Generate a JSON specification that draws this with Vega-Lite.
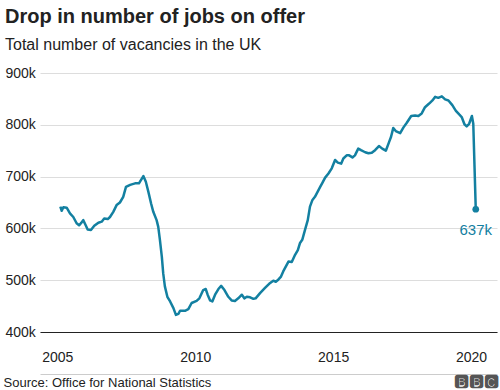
{
  "$schema": "https://vega.github.io/schema/vega-lite/v6.json",
  "width": 457,
  "height": 259,
  "autosize": {"type": "none"},
  "padding": {"left": 40, "top": 73, "right": 3, "bottom": 58},
  "background": "white",
  "config": {"font": "Liberation Sans", "view": {"stroke": null}},
  "title": {
    "text": "Drop in number of jobs on offer",
    "subtitle": "Total number of vacancies in the UK",
    "anchor": "start",
    "frame": "group",
    "dx": -35,
    "offset": 13,
    "fontSize": 20,
    "fontWeight": "bold",
    "color": "#222222",
    "subtitleFontSize": 16,
    "subtitleColor": "#222222",
    "subtitlePadding": 10
  },
  "datasets": {
    "vacancies": [
      {"year": 2005.11, "vacancies": 642}, {"year": 2005.16, "vacancies": 634}, {"year": 2005.22, "vacancies": 641},
      {"year": 2005.34, "vacancies": 640}, {"year": 2005.46, "vacancies": 629}, {"year": 2005.58, "vacancies": 622},
      {"year": 2005.70, "vacancies": 610}, {"year": 2005.79, "vacancies": 606}, {"year": 2005.86, "vacancies": 610},
      {"year": 2005.94, "vacancies": 616}, {"year": 2006.03, "vacancies": 606}, {"year": 2006.10, "vacancies": 598},
      {"year": 2006.22, "vacancies": 597}, {"year": 2006.34, "vacancies": 605}, {"year": 2006.49, "vacancies": 611},
      {"year": 2006.61, "vacancies": 613}, {"year": 2006.70, "vacancies": 619}, {"year": 2006.83, "vacancies": 618},
      {"year": 2006.91, "vacancies": 622}, {"year": 2007.03, "vacancies": 632}, {"year": 2007.15, "vacancies": 645},
      {"year": 2007.27, "vacancies": 650}, {"year": 2007.39, "vacancies": 661}, {"year": 2007.49, "vacancies": 680},
      {"year": 2007.64, "vacancies": 684}, {"year": 2007.82, "vacancies": 687}, {"year": 2007.96, "vacancies": 687},
      {"year": 2008.12, "vacancies": 701}, {"year": 2008.21, "vacancies": 690}, {"year": 2008.30, "vacancies": 671},
      {"year": 2008.40, "vacancies": 648}, {"year": 2008.48, "vacancies": 632}, {"year": 2008.60, "vacancies": 616},
      {"year": 2008.66, "vacancies": 603}, {"year": 2008.72, "vacancies": 578}, {"year": 2008.79, "vacancies": 545},
      {"year": 2008.84, "vacancies": 513}, {"year": 2008.90, "vacancies": 488}, {"year": 2008.99, "vacancies": 468},
      {"year": 2009.09, "vacancies": 459}, {"year": 2009.21, "vacancies": 446}, {"year": 2009.30, "vacancies": 433},
      {"year": 2009.39, "vacancies": 435}, {"year": 2009.45, "vacancies": 441}, {"year": 2009.63, "vacancies": 441},
      {"year": 2009.75, "vacancies": 444}, {"year": 2009.87, "vacancies": 456}, {"year": 2010.05, "vacancies": 460},
      {"year": 2010.15, "vacancies": 465}, {"year": 2010.21, "vacancies": 472}, {"year": 2010.29, "vacancies": 481},
      {"year": 2010.38, "vacancies": 483}, {"year": 2010.45, "vacancies": 472}, {"year": 2010.54, "vacancies": 461},
      {"year": 2010.62, "vacancies": 459}, {"year": 2010.72, "vacancies": 472}, {"year": 2010.84, "vacancies": 483},
      {"year": 2010.94, "vacancies": 489}, {"year": 2011.06, "vacancies": 481}, {"year": 2011.20, "vacancies": 468},
      {"year": 2011.32, "vacancies": 461}, {"year": 2011.44, "vacancies": 460}, {"year": 2011.56, "vacancies": 465},
      {"year": 2011.69, "vacancies": 472}, {"year": 2011.78, "vacancies": 465}, {"year": 2011.87, "vacancies": 468},
      {"year": 2011.99, "vacancies": 467}, {"year": 2012.11, "vacancies": 464}, {"year": 2012.19, "vacancies": 465},
      {"year": 2012.35, "vacancies": 475}, {"year": 2012.53, "vacancies": 485}, {"year": 2012.68, "vacancies": 493},
      {"year": 2012.83, "vacancies": 499}, {"year": 2012.92, "vacancies": 497}, {"year": 2013.01, "vacancies": 501},
      {"year": 2013.11, "vacancies": 507}, {"year": 2013.19, "vacancies": 517}, {"year": 2013.38, "vacancies": 536},
      {"year": 2013.50, "vacancies": 535}, {"year": 2013.62, "vacancies": 549}, {"year": 2013.72, "vacancies": 558},
      {"year": 2013.80, "vacancies": 572}, {"year": 2013.88, "vacancies": 578}, {"year": 2013.98, "vacancies": 597},
      {"year": 2014.08, "vacancies": 616}, {"year": 2014.16, "vacancies": 642}, {"year": 2014.25, "vacancies": 655},
      {"year": 2014.34, "vacancies": 661}, {"year": 2014.44, "vacancies": 671}, {"year": 2014.53, "vacancies": 680},
      {"year": 2014.61, "vacancies": 688}, {"year": 2014.71, "vacancies": 698}, {"year": 2014.83, "vacancies": 706},
      {"year": 2014.95, "vacancies": 716}, {"year": 2015.07, "vacancies": 732}, {"year": 2015.17, "vacancies": 727},
      {"year": 2015.29, "vacancies": 725}, {"year": 2015.37, "vacancies": 735}, {"year": 2015.49, "vacancies": 741},
      {"year": 2015.58, "vacancies": 741}, {"year": 2015.70, "vacancies": 737}, {"year": 2015.79, "vacancies": 741},
      {"year": 2015.91, "vacancies": 754}, {"year": 2016.01, "vacancies": 751}, {"year": 2016.16, "vacancies": 747},
      {"year": 2016.28, "vacancies": 745}, {"year": 2016.40, "vacancies": 746}, {"year": 2016.52, "vacancies": 751},
      {"year": 2016.66, "vacancies": 759}, {"year": 2016.78, "vacancies": 754}, {"year": 2016.91, "vacancies": 750},
      {"year": 2017.03, "vacancies": 767}, {"year": 2017.10, "vacancies": 777}, {"year": 2017.18, "vacancies": 794},
      {"year": 2017.27, "vacancies": 788}, {"year": 2017.43, "vacancies": 784}, {"year": 2017.55, "vacancies": 795},
      {"year": 2017.67, "vacancies": 804}, {"year": 2017.83, "vacancies": 817}, {"year": 2017.97, "vacancies": 818},
      {"year": 2018.09, "vacancies": 817}, {"year": 2018.21, "vacancies": 822}, {"year": 2018.33, "vacancies": 834},
      {"year": 2018.48, "vacancies": 841}, {"year": 2018.60, "vacancies": 847}, {"year": 2018.70, "vacancies": 854},
      {"year": 2018.81, "vacancies": 852}, {"year": 2018.94, "vacancies": 855}, {"year": 2019.06, "vacancies": 849},
      {"year": 2019.18, "vacancies": 847}, {"year": 2019.32, "vacancies": 838}, {"year": 2019.45, "vacancies": 827},
      {"year": 2019.57, "vacancies": 820}, {"year": 2019.66, "vacancies": 815}, {"year": 2019.76, "vacancies": 801},
      {"year": 2019.84, "vacancies": 797}, {"year": 2019.93, "vacancies": 802}, {"year": 2020.03, "vacancies": 817},
      {"year": 2020.08, "vacancies": 802}, {"year": 2020.17, "vacancies": 637}
    ],
    "latest": [{"year": 2020.17, "vacancies": 637, "label": "637k"}]
  },
  "layer": [
    {
      "data": {"name": "vacancies"},
      "mark": {"type": "line", "color": "#1380A1", "strokeWidth": 2.5, "strokeJoin": "round"},
      "encoding": {
        "x": {
          "field": "year", "type": "quantitative",
          "scale": {"domain": [2004.373, 2020.94], "nice": false, "zero": false},
          "axis": {
            "values": [2005, 2010, 2015, 2020], "format": "d", "grid": false, "ticks": false,
            "domainColor": "#222222", "domainWidth": 1,
            "labelFontSize": 14, "labelColor": "#222222", "labelPadding": 18,
            "title": "Source: Office for National Statistics",
            "titleFontSize": 13, "titleFontWeight": "normal", "titleColor": "#222222",
            "titleAnchor": "start", "titleAlign": "left", "titleBaseline": "alphabetic",
            "titleX": -37, "titleY": 54, "zindex": 1
          }
        },
        "y": {
          "field": "vacancies", "type": "quantitative",
          "scale": {"domain": [400, 900], "nice": false, "zero": false},
          "axis": {
            "values": [400, 500, 600, 700, 800, 900], "labelExpr": "datum.value + 'k'",
            "title": null, "domain": false, "ticks": false, "gridColor": "#dddddd",
            "labelAlign": "left", "labelPadding": 35, "labelFontSize": 14,
            "labelColor": "#222222", "labelBaseline": "middle"
          }
        }
      }
    },
    {
      "data": {"name": "latest"},
      "mark": {"type": "point", "filled": true, "color": "#1380A1", "size": 45, "opacity": 1},
      "encoding": {
        "x": {
          "field": "year", "type": "quantitative",
          "axis": {
            "orient": "bottom", "offset": 42, "domainColor": "#cccccc", "domainWidth": 1,
            "labels": false, "ticks": false, "grid": false,
            "title": "🅱🅱🅲", "titleFontSize": 16, "titleFontWeight": "bold", "titleColor": "#555555",
            "titleAnchor": "end", "titleAlign": "right", "titleBaseline": "alphabetic",
            "titleX": 458, "titleY": 12
          }
        },
        "y": {"field": "vacancies", "type": "quantitative"}
      }
    },
    {
      "data": {"name": "latest"},
      "mark": {"type": "text", "align": "center", "baseline": "alphabetic", "dy": 26, "fontSize": 15, "color": "#1380A1"},
      "encoding": {
        "x": {"field": "year", "type": "quantitative", "axis": null},
        "y": {"field": "vacancies", "type": "quantitative"},
        "text": {"field": "label", "type": "nominal"}
      }
    }
  ],
  "resolve": {"axis": {"x": "independent"}}
}
